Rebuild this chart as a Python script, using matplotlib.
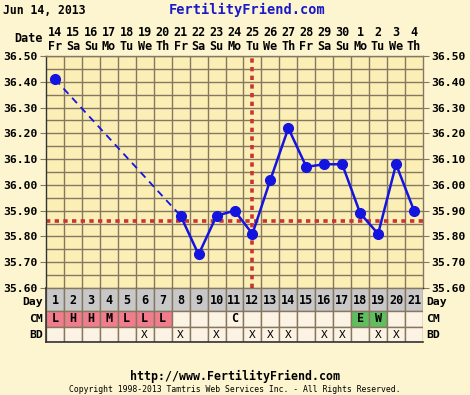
import matplotlib
matplotlib.use("Agg")
import matplotlib.pyplot as plt
from matplotlib.patches import Rectangle
import numpy as np

# chart data
cycle_days = list(range(1, 22))
dates = [14, 15, 16, 17, 18, 19, 20, 21, 22, 23, 24, 25, 26, 27, 28, 29, 30, 1, 2, 3, 4]
weekdays = ["Fr", "Sa", "Su", "Mo", "Tu", "We", "Th", "Fr", "Sa", "Su", "Mo",
            "Tu", "We", "Th", "Fr", "Sa", "Su", "Mo", "Tu", "We", "Th"]
temp_days = [1, 8, 9, 10, 11, 12, 13, 14, 15, 16, 17, 18, 19, 20, 21]
temps = [36.41, 35.88, 35.73, 35.88, 35.90, 35.81, 36.02, 36.22, 36.07, 36.08,
         36.08, 35.89, 35.81, 36.08, 35.90]
coverline = 35.86
ovulation_day = 12
cm_codes = ["L", "H", "H", "M", "L", "L", "L", "", "", "", "C", "", "", "", "",
            "", "", "E", "W", "", ""]
bd_days = [6, 8, 10, 12, 13, 14, 16, 17, 19, 20]
y_ticks = [35.60, 35.70, 35.80, 35.90, 36.00, 36.10, 36.20, 36.30, 36.40, 36.50]

BG = "#fdf5d0"
PLOT_BG = "#fbefb6"
GRID = "#857760"
BLUE = "#1414e0"
RED = "#cc3333"
FONT = "DejaVu Sans Mono"

W, H = 470, 395
fig = plt.figure(figsize=(W / 100, H / 100), dpi=100, facecolor=BG)


def box(x0, y0, x1, y1):
    return [x0 / W, 1 - y1 / H, (x1 - x0) / W, (y1 - y0) / H]


# temperature chart
ax = fig.add_axes(box(46, 56, 423, 288))
ax.set_facecolor(PLOT_BG)
ax.set_xlim(0.5, 21.5)
ax.set_ylim(35.60, 36.50)
for x in np.arange(1.5, 21.5, 1):
    ax.axvline(x, color=GRID, lw=1, zorder=1)
for y in np.arange(35.65, 36.50, 0.05):
    ax.axhline(y, color=GRID, lw=1, zorder=1)
ax.set_xticks([])
ax.set_yticks(y_ticks)
ax.set_yticklabels([f"{v:.2f}" for v in y_ticks], family=FONT,
                   fontweight="bold", fontsize=8.2)
ax.tick_params(axis="y", length=4, color=GRID, labelright=True, right=True,
               pad=2)
for s in ax.spines.values():
    s.set_color("#333333")
    s.set_linewidth(1)
ax.spines["top"].set_color(GRID)
ax.spines["right"].set_color(GRID)

# coverline and ovulation line
ax.axhline(coverline, color=RED, lw=2.6, ls=(0, (1.2, 1.2)), zorder=2)
ax.axvline(ovulation_day, color=RED, lw=2.6, ls=(0, (1.2, 1.2)), zorder=2)

# dashed link over missing days, solid afterwards
ax.plot(temp_days[:2], temps[:2], color=BLUE, lw=1.3, ls=(0, (4, 3)), zorder=3)
ax.plot(temp_days[1:], temps[1:], color=BLUE, lw=1.8, zorder=3)
ax.plot(temp_days, temps, "o", color=BLUE, ms=7, zorder=4)

# header rows
for d, dt, wd in zip(cycle_days, dates, weekdays):
    xf = (46 + (d - 0.5) * 377 / 21) / W
    fig.text(xf, 1 - 33 / H, str(dt), ha="center", va="center", family=FONT,
             fontweight="bold", fontsize=8.5)
    fig.text(xf, 1 - 46 / H, wd, ha="center", va="center", family=FONT,
             fontweight="bold", fontsize=8.5)
fig.text(43 / W, 1 - 39 / H, "Date", ha="right", va="center", family=FONT,
         fontweight="bold", fontsize=8.5)
fig.text(3 / W, 1 - 10 / H, "Jun 14, 2013", ha="left", va="center", family=FONT,
         fontweight="bold", fontsize=8.3)
fig.text(247 / W, 1 - 10 / H, "FertilityFriend.com", ha="center", va="center",
         family=FONT, fontweight="bold", fontsize=9.8, color="#1a1ac8")

# day / CM / BD table
tab = fig.add_axes(box(46, 288, 423, 342))
tab.set_xlim(0.5, 21.5)
tab.set_ylim(3, 0)
tab.axis("off")
for d in cycle_days:
    tab.add_patch(Rectangle((d - 0.5, 0), 1, 1.27, fc="#c8c8c8", ec=GRID, lw=1))
    tab.text(d, 0.7, str(d), ha="center", va="center", family=FONT,
             fontweight="bold", fontsize=8.5)
    code = cm_codes[d - 1]
    fc = "#fdf3e4"
    if code in ("L", "H", "M"):
        fc = "#f07c8c"
    elif code in ("E", "W"):
        fc = "#5fbf5f"
    tab.add_patch(Rectangle((d - 0.5, 1.27), 1, 0.88, fc=fc, ec=GRID, lw=1))
    tab.text(d, 1.72, code, ha="center", va="center", family=FONT,
             fontweight="bold", fontsize=8.5)
    tab.add_patch(Rectangle((d - 0.5, 2.15), 1, 0.85, fc="#fdf3e4", ec=GRID, lw=1))
    if d in bd_days:
        tab.text(d, 2.6, "X", ha="center", va="center", family=FONT,
                 fontsize=8)
tab.plot([0.5, 21.5], [3, 3], color="#333333", lw=1.2, clip_on=False)
tab.plot([0.5, 0.5], [0, 3], color="#333333", lw=1.2, clip_on=False)
for label, yc in zip(["Day", "CM", "BD"], [0.8, 1.72, 2.6]):
    tab.text(0.32, yc, label, ha="right", va="center", family=FONT,
             fontweight="bold", fontsize=8.2)
    tab.text(21.7, yc, label, ha="left", va="center", family=FONT,
             fontweight="bold", fontsize=8.2)

# footer
fig.text(235 / W, 1 - 376 / H, "http://www.FertilityFriend.com", ha="center",
         va="center", family=FONT, fontweight="bold", fontsize=8.4)
fig.text(235 / W, 1 - 390 / H,
         "Copyright 1998-2013 Tamtris Web Services Inc. - All Rights Reserved.",
         ha="center", va="center", family=FONT, fontsize=5.9)

fig.savefig("out.png", dpi=100, facecolor=BG)
